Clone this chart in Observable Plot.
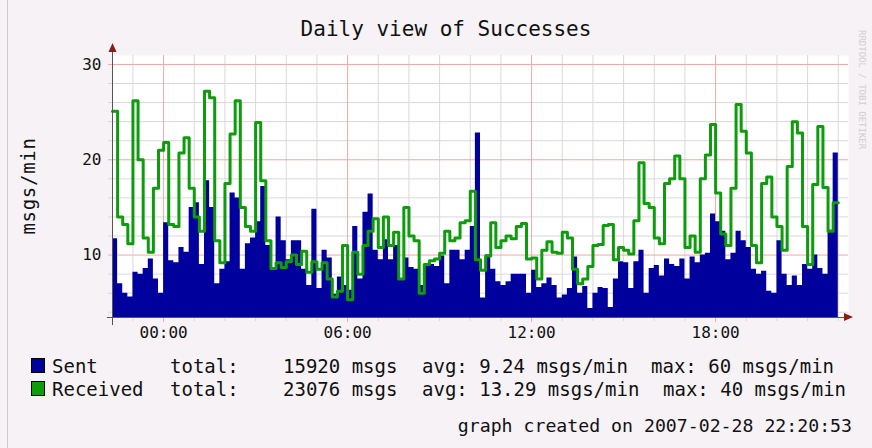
<!DOCTYPE html>
<html><head><meta charset="utf-8">
<script src="https://cdn.jsdelivr.net/npm/d3@7"></script>
<script src="https://cdn.jsdelivr.net/npm/@observablehq/plot@0.6"></script>
<style>
html,body{margin:0;padding:0;background:#f6f2f6;}
#chart{width:872px;height:448px;overflow:hidden;}
</style></head><body><div id="chart"></div>
<script>
const title = "Daily view of Successes";
const yLabel = "msgs/min";
const footer = "graph created on 2007-02-28 22:20:53";
const startHour = -5/3;      // 22:20 of the previous day
const stepHours = 1/6;       // 10-minute samples
const yTicks = [10, 20, 30];
const xTickHours = [0, 6, 12, 18];
const xTickLabels = ["00:00", "06:00", "12:00", "18:00"];

const sent = [11.7,7,6,5.6,8.2,8,8.6,9.6,7.5,6,13.4,9.4,9.2,10.8,10.3,15,15.5,9,17.8,15,7,8.5,9.3,16.5,
16,8.5,11.2,11.8,13.5,17.2,11,8.4,14,11.5,9.5,11.5,11.5,8.5,6.8,14.8,6.5,10.5,9.7,5.9,7.7,6.8,6.3,13,
7.5,14.5,16.4,10.5,9.5,11.6,9.5,11,7.5,9.7,8.7,8.5,6.8,9,9,8.8,9.9,7,10.5,10.5,9.5,10.5,13,22.8,
5.5,10,8.5,7.2,6.8,7.2,8,8,8,6,8.4,6.6,7,7.6,6.8,5.5,5.8,6.5,9.8,6,6.7,4.4,6,6.6,6.5,4.5,
7.5,9.3,9.2,6.5,9.3,10.5,6,8.6,8.9,7.8,9.6,9,8.8,9.6,7.5,9.8,9.2,10,10.2,14.3,13.5,12.5,9.5,10.2,
12.5,11.5,10.8,8.5,8,8.3,6.2,6,11.5,8,6.8,7.8,6.8,9,8.5,10,8.6,8,12.6,20.7];

const received = [25.1,14,13.2,11.2,26.2,20,11.8,10.3,17,21,21.8,13.2,13,20.7,22.3,17,14,12.5,27.2,26.5,11.5,9.2,17.5,22.7,
26.2,15,13,12.5,23.9,17.8,11.5,8.6,9.2,8.7,9.3,10,9,10.4,8.2,9.3,8.5,9.2,7.5,5.6,6.2,11,5.3,10.3,
8,11,12.5,13.8,10.8,14,11,12.4,7.5,15,12,11.5,6,9,9.4,9.6,10.2,12.5,11.5,11.8,13.4,13.6,16.7,9.5,
8.4,9.9,13.4,10.8,11.5,12,11.7,13,13.3,9.6,9.7,7.5,10.5,11.4,10.3,10.2,12.4,11.8,8.5,7,7.5,8.8,11,11.1,
13.1,13.2,9.5,10.8,10.5,10.1,13.6,19.7,15.4,15,11.8,11.2,17.5,18,20.4,18,10.8,12,10.3,18,20.5,23.7,16.5,12.2,
11,17,25.8,23,20.7,11,9.2,17.5,18.2,14,13,10.5,19.3,24,22.8,13,9,17.4,23.5,17.1,12.5,15.5];

const seriesNames = ["Sent", "Received"];
const seriesColors = ["#00009c", "#0c9c0c"];
const totals = ["15920 msgs", "23076 msgs"];
const avgs = ["avg: 9.24 msgs/min", "avg: 13.29 msgs/min"];
const maxes = ["max: 60 msgs/min", "max: 40 msgs/min"];

const yDomain = [3.45, 30.94];
const xDomain = [startHour, startHour + 24];

const rows = sent.map((s, i) => ({t: startHour + i * stepHours, sent: s, received: received[i]}));
rows.push({t: startHour + sent.length * stepHours, sent: sent[sent.length - 1], received: received[received.length - 1]});

const yMinor = d3.range(4, 30, 2).filter(v => v % 10 !== 0);
const xMinor = d3.range(-1, 23).filter(h => h % 6 !== 0);

const mono = "'DejaVu Sans Mono', monospace";

const plot = Plot.plot({
  width: 872, height: 448,
  marginLeft: 112, marginRight: 24, marginTop: 55, marginBottom: 131,
  style: {background: "transparent", fontFamily: mono, color: "#111", overflow: "visible"},
  x: {domain: xDomain, axis: null},
  y: {domain: yDomain, axis: null},
  marks: [
    Plot.frame({fill: "#ffffff", stroke: null}),
    Plot.ruleY(yMinor, {stroke: "#dcd6dc", strokeWidth: 1, insetLeft: -4}),
    Plot.ruleX(xMinor, {stroke: "#dcd6dc", strokeWidth: 1, insetBottom: -4}),
    Plot.ruleY(yTicks, {stroke: "#f2a6a6", strokeWidth: 1, insetLeft: -4}),
    Plot.ruleX(xTickHours, {stroke: "#f2a6a6", strokeWidth: 1, insetBottom: -5}),
    Plot.areaY(rows, {x: "t", y1: yDomain[0], y2: "sent", curve: "step-after", fill: seriesColors[0]}),
    Plot.line(rows, {x: "t", y: "received", curve: "step-after", stroke: seriesColors[1], strokeWidth: 3}),
    Plot.ruleY([yDomain[0]], {stroke: "#555", strokeWidth: 1, insetLeft: -5, insetRight: 4}),
    Plot.ruleX([xDomain[0]], {stroke: "#555", strokeWidth: 1, insetTop: -6, insetBottom: -8}),
    Plot.text(yTicks, {y: d => d, text: d => String(d), frameAnchor: "left", textAnchor: "end", dx: -11, fontSize: 16, fill: "#111"}),
    Plot.text(xTickHours, {x: d => d, text: (d, i) => xTickLabels[i], frameAnchor: "bottom", dy: 20, fontSize: 16, fill: "#111"})
  ]
});

const svg = d3.select(plot);
const xr = plot.scale("x").range, yr = plot.scale("y").range;
const ax = xr[0] + 0.5, ay = yr[0];
// axis arrows
svg.append("path").attr("d", `M${ax - 4},${yr[1] - 3} L${ax + 4},${yr[1] - 3} L${ax},${yr[1] - 12} Z`).attr("fill", "#8b1a1a");
svg.append("path").attr("d", `M${xr[1] - 4},${ay - 4} L${xr[1] - 4},${ay + 4} L${xr[1] + 5},${ay} Z`).attr("fill", "#8b1a1a");
// left border of the canvas
svg.append("line").attr("x1", 7.5).attr("x2", 7.5).attr("y1", 0).attr("y2", 448).attr("stroke", "#cfcacf");

const txt = (x, y, s, opts = {}) => {
  const t = svg.append("text").attr("x", x).attr("y", y).text(s)
    .attr("font-family", mono).attr("font-size", opts.size || 19).attr("fill", opts.fill || "#111")
    .attr("text-anchor", opts.anchor || "start").style("white-space", "pre");
  if (opts.transform) t.attr("transform", opts.transform);
  if (opts.ls) t.attr("letter-spacing", opts.ls);
  return t;
};

txt(446, 36, title, {size: 21, anchor: "middle"});
txt(0, 0, yLabel, {size: 19, anchor: "middle", ls: 0.7, transform: "translate(35,186) rotate(-90)"});
txt(0, 0, "RRDTOOL / TOBI OETIKER", {size: 9, fill: "#d2cdd2", transform: "translate(859,30) rotate(90)"});

const rowY = [373, 396];
seriesNames.forEach((name, i) => {
  svg.append("rect").attr("x", 31.5).attr("y", rowY[i] - 14.5).attr("width", 13).attr("height", 14)
    .attr("fill", seriesColors[i]).attr("stroke", "#000").attr("stroke-width", 1);
  txt(52, rowY[i], name);
  txt(170, rowY[i], "total:");
  txt(283, rowY[i], totals[i]);
  txt(422, rowY[i], avgs[i]);
  txt(i === 0 ? 651 : 663, rowY[i], maxes[i]);
});
txt(852, 432, footer, {anchor: "end", size: 18.2});

document.getElementById("chart").appendChild(plot);
</script></body></html>
